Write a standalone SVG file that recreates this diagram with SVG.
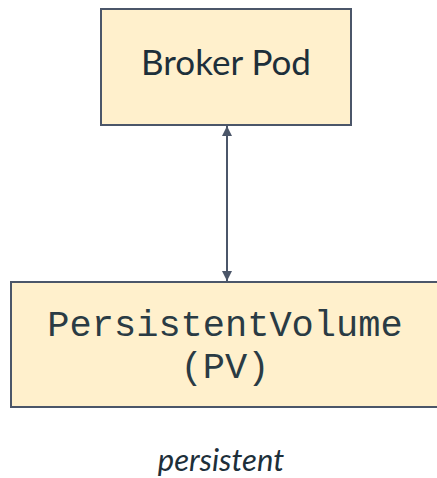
<svg xmlns="http://www.w3.org/2000/svg" width="437" height="478" viewBox="0 0 437 478">
  <style>
    .box { fill: #fff0cc; stroke: #4b5669; stroke-width: 2; }
    .sans { font-family: Lato, "Open Sans", sans-serif; fill: #1d2f3a; }
    .mono { font-family: "Courier New", "Liberation Mono", monospace; fill: #2a3b44; }
    .link { stroke: #4b5669; stroke-width: 2; fill: none; }
  </style>
  <defs>
    <marker id="arrow" viewBox="0 0 10 10" refX="10" refY="5" markerWidth="5" markerHeight="5" orient="auto-start-reverse" markerUnits="strokeWidth">
      <path d="M0,0 L10,5 L0,10 z" fill="#4b5669"/>
    </marker>
  </defs>

  <g id="broker-pod">
    <rect class="box" x="101" y="9" width="250" height="116"/>
    <text class="sans" x="226" y="75" font-size="35" text-anchor="middle">Broker Pod</text>
  </g>

  <g id="persistent-volume">
    <rect class="box" x="11" y="282" width="430" height="125"/>
    <text class="mono" x="225" y="336" font-size="37" text-anchor="middle">PersistentVolume</text>
    <text class="mono" x="225" y="378" font-size="37" text-anchor="middle">(PV)</text>
  </g>

  <g id="connectors">
    <line class="link" x1="227" y1="126" x2="227" y2="281" marker-start="url(#arrow)" marker-end="url(#arrow)"/>
  </g>

  <text class="sans" x="221" y="471" font-size="31" font-style="italic" text-anchor="middle">persistent</text>
</svg>
